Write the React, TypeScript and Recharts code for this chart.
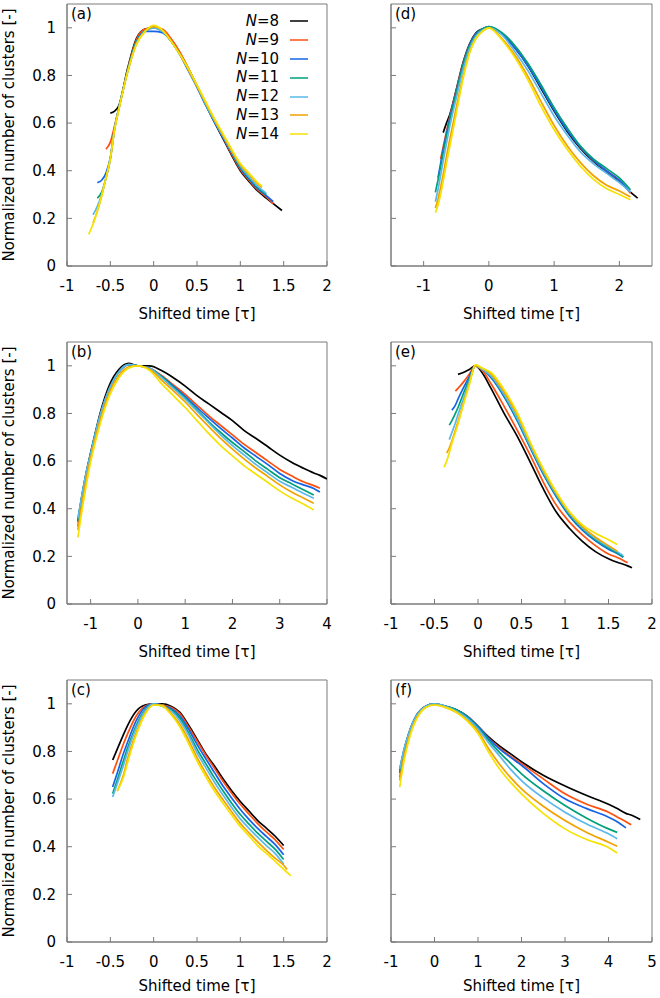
import React from 'react';
import { LineChart, Line, XAxis, YAxis, ReferenceArea, Legend } from 'recharts';

type Num = number | null;

// series order: N=8 .. N=14
const NAMES = ['8', '9', '10', '11', '12', '13', '14'];
const KEYS = ['n8', 'n9', 'n10', 'n11', 'n12', 'n13', 'n14'];
const COLORS = ['#000000', '#ff4f0f', '#1463e8', '#00a07a', '#5ab8ea', '#f2a200', '#f5e200'];

const Y_TICKS = [0, 0.2, 0.4, 0.6, 0.8, 1];
const FRAME = '#7a7a7a';

// (a)
const aT = [-0.75, -0.7, -0.65, -0.6, -0.55, -0.5, -0.45, -0.4, -0.3, -0.2, -0.1, 0, 0.1, 0.2, 0.3, 0.4, 0.5, 0.6, 0.7, 0.8, 0.9, 1, 1.1, 1.2, 1.25, 1.3, 1.38, 1.48];
const a8: Num[] = [null, null, null, null, null, 0.642, 0.65, 0.675, 0.83, 0.955, 0.995, 1.0, 0.99, 0.95, 0.895, 0.83, 0.755, 0.68, 0.605, 0.535, 0.465, 0.4, 0.355, 0.315, 0.3, 0.285, 0.262, 0.233];
const a9: Num[] = [null, null, null, null, 0.49, 0.52, 0.59, 0.665, 0.825, 0.95, 0.995, 1.0, 0.995, 0.955, 0.9, 0.83, 0.755, 0.68, 0.61, 0.54, 0.47, 0.405, 0.36, 0.32, 0.305, 0.29, 0.262, null];
const a10: Num[] = [null, null, 0.35, 0.36, 0.39, 0.455, 0.58, 0.665, 0.82, 0.94, 0.985, 0.985, 0.98, 0.945, 0.89, 0.82, 0.75, 0.675, 0.605, 0.54, 0.475, 0.41, 0.365, 0.325, 0.31, 0.295, 0.27, null];
const a11: Num[] = [null, null, 0.285, 0.31, 0.37, 0.45, 0.58, 0.665, 0.82, 0.94, 0.985, 1.0, 0.985, 0.945, 0.89, 0.825, 0.755, 0.68, 0.61, 0.545, 0.48, 0.415, 0.37, 0.33, 0.315, 0.3, null, null];
const a12: Num[] = [null, 0.215, 0.25, 0.3, 0.37, 0.45, 0.58, 0.665, 0.815, 0.935, 0.985, 1.0, 0.985, 0.945, 0.89, 0.825, 0.755, 0.68, 0.61, 0.545, 0.48, 0.42, 0.375, 0.335, 0.32, 0.305, null, null];
const a13: Num[] = [null, 0.18, 0.23, 0.295, 0.37, 0.45, 0.575, 0.66, 0.815, 0.93, 0.985, 1.005, 0.99, 0.945, 0.89, 0.825, 0.755, 0.685, 0.615, 0.55, 0.485, 0.425, 0.385, 0.345, 0.33, null, null, null];
const a14: Num[] = [0.133, 0.175, 0.23, 0.295, 0.37, 0.45, 0.575, 0.66, 0.815, 0.93, 0.985, 1.01, 0.99, 0.945, 0.89, 0.83, 0.76, 0.69, 0.62, 0.555, 0.49, 0.43, 0.39, 0.35, 0.335, null, null, null];

// (b)
const bT = [-1.27, -1.2, -1.1, -1, -0.9, -0.8, -0.6, -0.4, -0.2, 0, 0.25, 0.5, 0.75, 1, 1.25, 1.5, 1.75, 2, 2.25, 2.5, 2.75, 3, 3.25, 3.5, 3.72, 3.85, 4];
const b8: Num[] = [0.35, 0.435, 0.545, 0.635, 0.72, 0.8, 0.92, 0.985, 1.01, 1.0, 1.0, 0.98, 0.95, 0.915, 0.875, 0.84, 0.805, 0.77, 0.728, 0.695, 0.66, 0.625, 0.595, 0.57, 0.55, 0.54, 0.525];
const b9: Num[] = [0.325, 0.425, 0.535, 0.625, 0.71, 0.79, 0.905, 0.975, 1.005, 1.0, 0.99, 0.96, 0.92, 0.88, 0.835, 0.79, 0.75, 0.71, 0.67, 0.635, 0.6, 0.565, 0.538, 0.513, 0.497, 0.486, null];
const b10: Num[] = [0.345, 0.43, 0.535, 0.625, 0.71, 0.79, 0.905, 0.975, 1.005, 1.0, 0.99, 0.955, 0.915, 0.872, 0.825, 0.78, 0.737, 0.697, 0.655, 0.62, 0.585, 0.548, 0.52, 0.5, 0.485, 0.47, null];
const b11: Num[] = [0.35, 0.435, 0.54, 0.63, 0.715, 0.79, 0.905, 0.975, 1.005, 1.0, 0.99, 0.955, 0.91, 0.865, 0.815, 0.765, 0.72, 0.678, 0.64, 0.6, 0.565, 0.53, 0.505, 0.48, 0.458, null, null];
const b12: Num[] = [0.36, 0.44, 0.545, 0.63, 0.715, 0.79, 0.905, 0.975, 1.005, 1.0, 0.99, 0.95, 0.905, 0.86, 0.81, 0.76, 0.71, 0.665, 0.625, 0.585, 0.55, 0.515, 0.49, 0.465, 0.444, null, null];
const b13: Num[] = [0.31, 0.4, 0.515, 0.61, 0.695, 0.77, 0.89, 0.96, 0.995, 1.0, 0.985, 0.94, 0.895, 0.848, 0.795, 0.745, 0.695, 0.65, 0.608, 0.57, 0.535, 0.5, 0.47, 0.445, 0.423, null, null];
const b14: Num[] = [0.28, 0.37, 0.49, 0.595, 0.68, 0.755, 0.875, 0.95, 0.99, 1.0, 0.98, 0.925, 0.875, 0.825, 0.77, 0.715, 0.665, 0.622, 0.58, 0.545, 0.51, 0.475, 0.445, 0.42, 0.395, null, null];

// (c)
const cT = [-0.473, -0.42, -0.35, -0.3, -0.2, -0.1, 0, 0.1, 0.2, 0.3, 0.4, 0.5, 0.6, 0.7, 0.8, 0.9, 1, 1.1, 1.2, 1.3, 1.4, 1.5, 1.54, 1.58];
const c8: Num[] = [0.764, 0.81, 0.87, 0.91, 0.97, 0.995, 1.0, 1.0, 0.99, 0.965, 0.912, 0.852, 0.79, 0.74, 0.685, 0.635, 0.59, 0.55, 0.51, 0.478, 0.445, 0.405, null, null];
const c9: Num[] = [0.707, 0.76, 0.83, 0.875, 0.95, 0.99, 1.0, 0.995, 0.985, 0.96, 0.905, 0.845, 0.785, 0.73, 0.675, 0.625, 0.578, 0.537, 0.497, 0.462, 0.43, 0.388, null, null];
const c10: Num[] = [0.651, 0.71, 0.79, 0.84, 0.93, 0.985, 1.0, 0.995, 0.98, 0.95, 0.895, 0.83, 0.77, 0.712, 0.655, 0.605, 0.556, 0.515, 0.477, 0.443, 0.41, 0.366, null, null];
const c11: Num[] = [0.623, 0.68, 0.76, 0.815, 0.91, 0.975, 1.0, 0.99, 0.975, 0.94, 0.88, 0.81, 0.75, 0.69, 0.635, 0.583, 0.535, 0.495, 0.457, 0.423, 0.39, 0.346, null, null];
const c12: Num[] = [0.609, 0.665, 0.74, 0.8, 0.9, 0.97, 1.0, 0.99, 0.97, 0.93, 0.87, 0.795, 0.733, 0.672, 0.617, 0.565, 0.517, 0.477, 0.44, 0.405, 0.372, 0.327, null, null];
const c13: Num[] = [null, 0.633, 0.7, 0.77, 0.88, 0.96, 0.995, 0.995, 0.96, 0.915, 0.85, 0.775, 0.71, 0.65, 0.597, 0.547, 0.498, 0.458, 0.42, 0.385, 0.352, 0.322, 0.304, null];
const c14: Num[] = [null, 0.635, 0.69, 0.755, 0.87, 0.955, 0.995, 0.99, 0.955, 0.905, 0.835, 0.76, 0.695, 0.635, 0.582, 0.533, 0.485, 0.445, 0.405, 0.372, 0.34, 0.305, 0.292, 0.278];

// (d)
const dT = [-0.82, -0.78, -0.74, -0.7, -0.65, -0.6, -0.5, -0.4, -0.3, -0.2, -0.1, 0, 0.2, 0.4, 0.6, 0.8, 1, 1.2, 1.4, 1.6, 1.8, 2, 2.17, 2.28];
const d8: Num[] = [null, null, null, 0.56, 0.6, 0.635, 0.74, 0.85, 0.93, 0.978, 0.995, 1.0, 0.975, 0.915, 0.84, 0.745, 0.65, 0.565, 0.495, 0.44, 0.395, 0.355, 0.31, 0.285];
const d9: Num[] = [null, null, 0.449, 0.5, 0.565, 0.625, 0.735, 0.845, 0.925, 0.975, 0.995, 1.0, 0.975, 0.92, 0.845, 0.755, 0.66, 0.575, 0.5, 0.445, 0.4, 0.36, 0.305, null];
const d10: Num[] = [null, 0.37, 0.43, 0.49, 0.555, 0.62, 0.73, 0.84, 0.925, 0.975, 0.995, 1.005, 0.975, 0.915, 0.84, 0.75, 0.655, 0.57, 0.5, 0.445, 0.4, 0.36, 0.31, null];
const d11: Num[] = [0.309, 0.36, 0.415, 0.475, 0.545, 0.61, 0.725, 0.84, 0.92, 0.97, 0.995, 1.005, 0.98, 0.925, 0.85, 0.76, 0.665, 0.58, 0.505, 0.45, 0.41, 0.37, 0.32, null];
const d12: Num[] = [0.27, 0.32, 0.38, 0.44, 0.515, 0.585, 0.705, 0.82, 0.91, 0.965, 0.99, 1.0, 0.97, 0.9, 0.82, 0.725, 0.63, 0.55, 0.48, 0.43, 0.39, 0.35, 0.31, null];
const d13: Num[] = [0.243, 0.28, 0.33, 0.385, 0.46, 0.53, 0.665, 0.79, 0.895, 0.955, 0.985, 1.0, 0.955, 0.885, 0.795, 0.69, 0.59, 0.505, 0.435, 0.38, 0.34, 0.315, 0.29, null];
const d14: Num[] = [0.224, 0.255, 0.3, 0.355, 0.43, 0.5, 0.64, 0.78, 0.89, 0.955, 0.985, 1.0, 0.95, 0.875, 0.78, 0.67, 0.572, 0.49, 0.42, 0.365, 0.325, 0.3, 0.278, null];

// (e)
const eT = [-0.39, -0.36, -0.33, -0.3, -0.26, -0.23, -0.15, -0.1, -0.03, 0.05, 0.15, 0.3, 0.45, 0.6, 0.75, 0.9, 1.05, 1.2, 1.35, 1.5, 1.6, 1.67, 1.72, 1.77];
const e8: Num[] = [null, null, null, null, null, 0.964, 0.975, 0.985, 1.0, 0.97, 0.905, 0.8, 0.705, 0.596, 0.484, 0.386, 0.318, 0.263, 0.22, 0.19, 0.175, 0.167, 0.16, 0.152];
const e9: Num[] = [null, null, null, null, 0.894, 0.905, 0.94, 0.965, 1.0, 0.98, 0.925, 0.83, 0.73, 0.625, 0.512, 0.415, 0.345, 0.29, 0.245, 0.21, 0.195, 0.183, 0.173, null];
const e10: Num[] = [null, null, null, 0.814, 0.835, 0.86, 0.92, 0.955, 1.0, 0.985, 0.95, 0.87, 0.77, 0.655, 0.545, 0.45, 0.37, 0.31, 0.265, 0.23, 0.212, 0.196, null, null];
const e11: Num[] = [null, null, 0.751, 0.77, 0.8, 0.825, 0.9, 0.945, 1.0, 0.985, 0.955, 0.875, 0.775, 0.66, 0.55, 0.455, 0.375, 0.315, 0.27, 0.235, 0.215, 0.198, null, null];
const e12: Num[] = [null, null, 0.69, 0.72, 0.76, 0.795, 0.88, 0.935, 1.0, 0.985, 0.958, 0.88, 0.78, 0.665, 0.555, 0.46, 0.38, 0.32, 0.275, 0.24, 0.22, 0.203, null, null];
const e13: Num[] = [null, 0.634, 0.655, 0.685, 0.73, 0.765, 0.865, 0.925, 1.0, 0.99, 0.965, 0.89, 0.795, 0.675, 0.562, 0.465, 0.385, 0.325, 0.28, 0.245, 0.222, null, null, null];
const e14: Num[] = [0.575, 0.6, 0.635, 0.675, 0.72, 0.755, 0.86, 0.92, 1.005, 0.99, 0.972, 0.9, 0.805, 0.68, 0.568, 0.47, 0.388, 0.332, 0.297, 0.27, 0.25, null, null, null];

// (f)
const fT = [-0.8, -0.7, -0.6, -0.5, -0.4, -0.2, 0, 0.25, 0.5, 0.75, 1, 1.25, 1.5, 1.75, 2, 2.5, 3, 3.5, 4, 4.2, 4.4, 4.52, 4.73];
const f8: Num[] = [0.72, 0.805, 0.87, 0.92, 0.955, 0.99, 1.0, 0.99, 0.975, 0.948, 0.905, 0.86, 0.822, 0.79, 0.757, 0.7, 0.655, 0.615, 0.578, 0.56, 0.54, 0.533, 0.514];
const f9: Num[] = [0.69, 0.795, 0.865, 0.915, 0.955, 0.99, 1.0, 0.99, 0.975, 0.948, 0.905, 0.855, 0.815, 0.78, 0.749, 0.685, 0.622, 0.578, 0.545, 0.525, 0.505, 0.492, null];
const f10: Num[] = [0.71, 0.8, 0.865, 0.915, 0.955, 0.99, 1.0, 0.99, 0.975, 0.948, 0.905, 0.853, 0.81, 0.775, 0.742, 0.665, 0.601, 0.56, 0.524, 0.505, 0.479, null, null];
const f11: Num[] = [0.72, 0.805, 0.87, 0.92, 0.955, 0.99, 1.0, 0.99, 0.975, 0.945, 0.9, 0.845, 0.795, 0.75, 0.706, 0.635, 0.573, 0.52, 0.475, 0.46, null, null, null];
const f12: Num[] = [0.727, 0.81, 0.87, 0.92, 0.955, 0.99, 1.0, 0.99, 0.97, 0.94, 0.895, 0.835, 0.78, 0.725, 0.678, 0.605, 0.545, 0.495, 0.454, 0.433, null, null, null];
const f13: Num[] = [0.678, 0.78, 0.85, 0.905, 0.945, 0.985, 0.995, 0.985, 0.965, 0.932, 0.885, 0.81, 0.745, 0.69, 0.643, 0.57, 0.51, 0.46, 0.419, 0.402, null, null, null];
const f14: Num[] = [0.65, 0.76, 0.84, 0.9, 0.94, 0.985, 0.995, 0.985, 0.965, 0.928, 0.875, 0.795, 0.725, 0.67, 0.622, 0.54, 0.475, 0.43, 0.397, 0.374, null, null, null];

function buildRows(t: number[], series: Num[][]) {
  return t.map((x, i) => {
    const row: Record<string, Num> = { x };
    series.forEach((s, k) => {
      row[KEYS[k]] = s[i];
    });
    return row;
  });
}

const renderLegend = () => (
  <div style={{ fontSize: 15, lineHeight: '18.8px' }}>
    {NAMES.map((n, i) => (
      <div key={n} style={{ display: 'flex', alignItems: 'center', height: 18.8 }}>
        <span style={{ width: 49, textAlign: 'right', whiteSpace: 'nowrap' }}>
          <i>N</i>={n}
        </span>
        <svg width={18} height={4} style={{ marginLeft: 11 }}>
          <line x1={0} y1={2} x2={18} y2={2} stroke={COLORS[i]} strokeWidth={1.5} />
        </svg>
      </div>
    ))}
  </div>
);

interface PanelProps {
  tag: string;
  data: Record<string, Num>[];
  xDomain: [number, number];
  xTicks: number[];
  left: number;
  top: number;
  titleOffset: number;
  yLabels?: boolean;
  legend?: boolean;
}

function Panel({ tag, data, xDomain, xTicks, left, top, titleOffset, yLabels, legend }: PanelProps) {
  const plotW = left === 0 ? 260 : 261;
  return (
    <div style={{ position: 'absolute', left, top }}>
      <LineChart
        width={336}
        height={325}
        data={data}
        margin={{ top: 4, right: 336 - 67 - plotW, bottom: 0, left: 0 }}
      >
        <ReferenceArea
          x1={xDomain[0]}
          x2={xDomain[1]}
          y1={0}
          y2={1.1}
          fill="none"
          stroke={FRAME}
          strokeWidth={1}
          label={{ value: tag, position: 'insideTopLeft', offset: 4, fill: '#000', fontSize: 15 }}
        />
        <XAxis
          type="number"
          dataKey="x"
          domain={xDomain}
          ticks={xTicks}
          interval={0}
          allowDataOverflow
          height={59}
          tickSize={-5}
          tickMargin={19}
          stroke={FRAME}
          tick={{ fill: '#000', fontSize: 15 }}
          label={{ value: 'Shifted time [τ]', position: 'insideBottom', offset: titleOffset, fill: '#000', fontSize: 15 }}
        />
        <YAxis
          type="number"
          domain={[0, 1.1]}
          ticks={Y_TICKS}
          interval={0}
          allowDataOverflow
          width={67}
          tickSize={-5}
          tickMargin={16}
          stroke={FRAME}
          tick={{ fill: '#000', fontSize: 15 }}
          tickFormatter={yLabels ? undefined : () => ''}
          label={
            yLabels
              ? {
                  value: 'Normalized number of clusters [-]',
                  angle: -90,
                  position: 'insideLeft',
                  offset: 9,
                  fill: '#000',
                  fontSize: 15,
                  style: { textAnchor: 'middle' },
                }
              : undefined
          }
        />
        {KEYS.map((k, i) => (
          <Line
            key={k}
            dataKey={k}
            name={`N=${NAMES[i]}`}
            type="monotone"
            stroke={COLORS[i]}
            strokeWidth={1.7}
            dot={false}
            isAnimationActive={false}
          />
        ))}
        {legend && (
          <Legend
            layout="vertical"
            align="center"
            verticalAlign="middle"
            content={renderLegend}
            wrapperStyle={{ left: 230, top: 12, width: 90 }}
          />
        )}
      </LineChart>
    </div>
  );
}

export default function App() {
  return (
    <div
      style={{
        position: 'absolute',
        left: 0,
        top: 0,
        width: 660,
        height: 998,
        background: '#fff',
        fontFamily: '"DejaVu Sans", sans-serif',
      }}
    >
      <Panel tag="(a)" data={buildRows(aT, [a8, a9, a10, a11, a12, a13, a14])} xDomain={[-1, 2]} xTicks={[-1, -0.5, 0, 0.5, 1, 1.5, 2]} left={0} top={0} titleOffset={6} yLabels legend />
      <Panel tag="(b)" data={buildRows(bT, [b8, b9, b10, b11, b12, b13, b14])} xDomain={[-1.5, 4]} xTicks={[-1, 0, 1, 2, 3, 4]} left={0} top={338} titleOffset={6} yLabels />
      <Panel tag="(c)" data={buildRows(cT, [c8, c9, c10, c11, c12, c13, c14])} xDomain={[-1, 2]} xTicks={[-1, -0.5, 0, 0.5, 1, 1.5, 2]} left={0} top={676} titleOffset={10} yLabels />
      <Panel tag="(d)" data={buildRows(dT, [d8, d9, d10, d11, d12, d13, d14])} xDomain={[-1.5, 2.5]} xTicks={[-1, 0, 1, 2]} left={324} top={0} titleOffset={6} />
      <Panel tag="(e)" data={buildRows(eT, [e8, e9, e10, e11, e12, e13, e14])} xDomain={[-1, 2]} xTicks={[-1, -0.5, 0, 0.5, 1, 1.5, 2]} left={324} top={338} titleOffset={6} />
      <Panel tag="(f)" data={buildRows(fT, [f8, f9, f10, f11, f12, f13, f14])} xDomain={[-1, 5]} xTicks={[-1, 0, 1, 2, 3, 4, 5]} left={324} top={676} titleOffset={10} />
    </div>
  );
}
